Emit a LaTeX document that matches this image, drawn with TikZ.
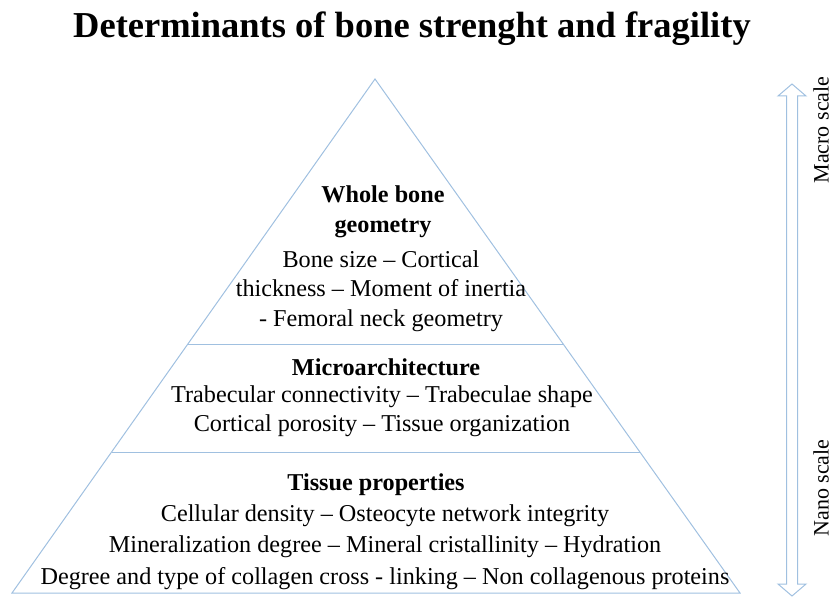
\documentclass[tikz,border=0pt]{standalone}
\usepackage{fontspec}
\setmainfont{Liberation Serif}
\usetikzlibrary{calc}

\begin{document}
\begin{tikzpicture}[x=1pt,y=-1pt,
 edge/.style={draw=pyr,line width=1pt},
 hd/.style={font=\fontsize{24.2}{30}\selectfont\bfseries,align=center,inner sep=0pt},
 txt/.style={font=\fontsize{24.2}{29.5}\selectfont,align=center,inner sep=0pt},
 side/.style={font=\fontsize{22}{25}\selectfont,rotate=90,inner sep=0pt}]
\definecolor{pyr}{RGB}{160,192,224}
\useasboundingbox (0,0) rectangle (832,599);
% title
\node[font=\fontsize{36.5}{40}\selectfont\bfseries] (title) at (412,29) {Determinants of bone strenght and fragility};
% pyramid
\coordinate (apex) at (375,79);
\coordinate (bl) at (12,593);
\coordinate (br) at (740,593);
\draw[edge] (apex)--(br)--(bl)--cycle;
\draw[edge] ($(apex)!0.5156!(bl)$)--($(apex)!0.5156!(br)$);
\draw[edge] ($(apex)!0.7257!(bl)$)--($(apex)!0.7257!(br)$);
% whole bone
\node[hd] (h1) at (383,212) {Whole bone\\geometry};
\node[txt] (t1) at (381,291) {Bone size -- Cortical\\thickness -- Moment of inertia\\- Femoral neck geometry};
% micro
\node[hd] (h2) at (386,367) {Microarchitecture};
\node[txt] (t2) at (382,411) {Trabecular connectivity -- Trabeculae shape\\Cortical porosity -- Tissue organization};
% tissue
\node[hd] (h3) at (376,485) {Tissue properties};
\node[txt,font=\fontsize{24.2}{31.5}\selectfont] (t3) at (385,547) {Cellular density -- Osteocyte network integrity\\Mineralization degree -- Mineral cristallinity -- Hydration\\Degree and type of collagen cross - linking -- Non collagenous proteins};
% scale arrow
\draw[edge] (792,84)--(806,96)--(797.5,96)--(797.5,584)--(806,584)--(792,596)
 --(778,584)--(786.5,584)--(786.5,96)--(778,96)--cycle;
\node[side] (macro) at (821,130) {Macro scale};
\node[side] (nano) at (821,488) {Nano scale};
\end{tikzpicture}
\end{document}
